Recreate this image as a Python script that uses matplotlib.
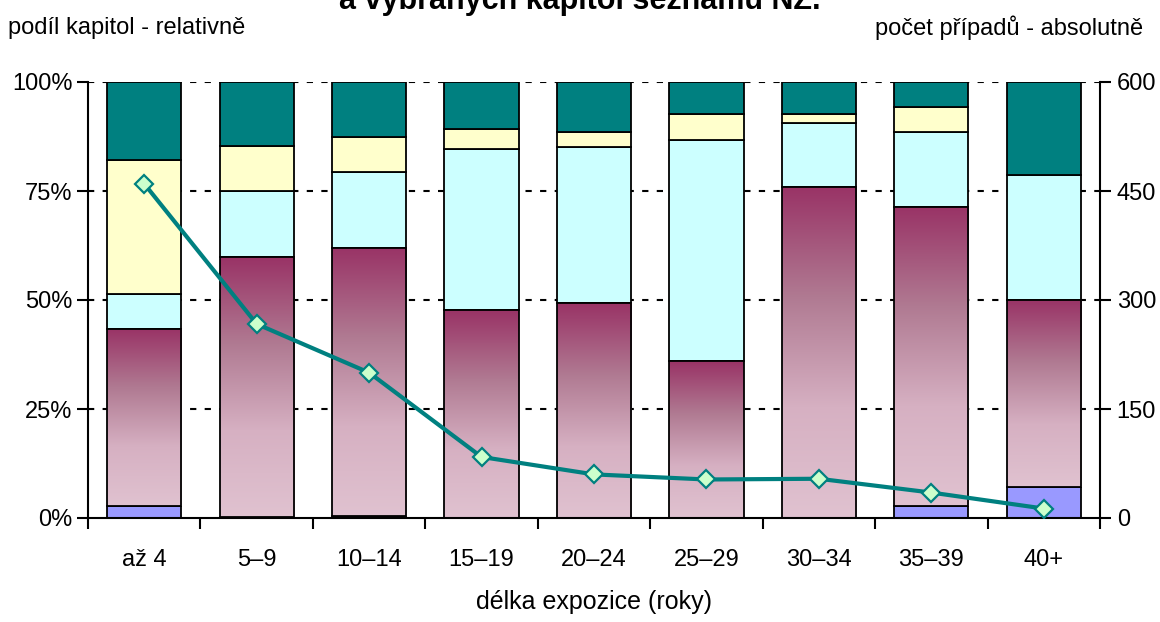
import matplotlib.pyplot as plt
import numpy as np
from matplotlib.colors import LinearSegmentedColormap

plt.rcParams['font.family'] = ['Liberation Sans', 'DejaVu Sans']

kategorie = ["až 4", "5–9", "10–14", "15–19", "20–24", "25–29", "30–34", "35–39", "40+"]
# horni hranice jednotlivych casti sloupcu (kumulativne, v %)
modra = [2.8, 0.2, 0.5, 0.0, 0.0, 0.0, 0.0, 2.8, 7.0]
vinova = [43.4, 59.8, 62.0, 47.7, 49.2, 35.9, 76.0, 71.4, 50.0]
azurova = [51.4, 75.0, 79.4, 84.6, 85.2, 86.8, 90.7, 88.6, 78.6]
zluta = [82.0, 85.4, 87.5, 89.3, 88.5, 92.6, 92.6, 94.3, 78.6]
# pocet pripadu
pocet = [460, 267, 200, 84, 60, 53, 54, 35, 13]

fig = plt.figure(figsize=(11.6, 6.22), dpi=100)
ax = fig.add_axes([88/1160, 104/622, 1012/1160, 436/622])

x = np.arange(len(kategorie))
w = 0.66
ec = "black"
lw = 1.3

grad = LinearSegmentedColormap.from_list("vin", ["#e0c2d0", "#d6b0c2", "#b07a92", "#993366"])
g = np.linspace(0, 1, 256).reshape(-1, 1)

for i in range(len(x)):
    b0 = 0
    if modra[i] > 0:
        ax.bar(x[i], modra[i], w, bottom=0, color="#9999ff", edgecolor=ec, linewidth=lw, zorder=2)
        b0 = modra[i]
    r = ax.bar(x[i], vinova[i] - b0, w, bottom=b0, color="none", edgecolor=ec, linewidth=lw, zorder=3)[0]
    im = ax.imshow(g, cmap=grad, aspect="auto", origin="lower",
                   extent=[x[i] - w/2, x[i] + w/2, b0, vinova[i]], zorder=2.5)
    im.set_clip_path(r)
    ax.bar(x[i], azurova[i] - vinova[i], w, bottom=vinova[i], color="#ccffff", edgecolor=ec, linewidth=lw, zorder=2)
    if zluta[i] > azurova[i]:
        ax.bar(x[i], zluta[i] - azurova[i], w, bottom=azurova[i], color="#ffffcc", edgecolor=ec, linewidth=lw, zorder=2)
    ax.bar(x[i], 100 - zluta[i], w, bottom=zluta[i], color="#008080", edgecolor=ec, linewidth=lw, zorder=2)

ax.set_xlim(-0.5, len(x) - 0.5)
ax.set_ylim(0, 100)
ax.set_yticks([0, 25, 50, 75, 100])
ax.set_yticklabels(["0%", "25%", "50%", "75%", "100%"])
ax.set_xticks(x)
ax.set_xticklabels(kategorie)
ax.set_xticks(np.arange(len(x) + 1) - 0.5, minor=True)
ax.tick_params(axis="x", which="major", length=0, labelsize=17, pad=22)
ax.tick_params(axis="x", which="minor", length=8, width=1.5, direction="out")
ax.tick_params(axis="y", length=8, width=1.5, direction="out", labelsize=17, pad=3)
for yv in [25, 50, 75, 100]:
    ax.axhline(yv, color="black", linestyle=(0, (3, 4)), linewidth=1.5, zorder=0)
for s in ["top", "right"]:
    ax.spines[s].set_visible(False)
ax.spines["left"].set_linewidth(1.5)
ax.spines["bottom"].set_linewidth(1.5)
ax.set_xlabel("délka expozice (roky)", fontsize=18, labelpad=14)

ax2 = ax.twinx()
ax2.plot(x, pocet, color="#008080", linewidth=3, marker="D", markersize=9.5,
         markerfacecolor="#ccffcc", markeredgecolor="#008080", markeredgewidth=1.6, zorder=5)
ax2.set_ylim(0, 600)
ax2.set_yticks([0, 150, 300, 450, 600])
ax2.tick_params(axis="y", length=8, width=1.5, direction="out", labelsize=17, pad=4)
for s in ["top", "left", "bottom"]:
    ax2.spines[s].set_visible(False)
ax2.spines["right"].set_linewidth(1.5)

fig.text(8/1160, 1 - 28/622, "podíl kapitol - relativně", fontsize=17, ha="left", va="center")
fig.text(1143/1160, 1 - 28/622, "počet případů - absolutně", fontsize=17, ha="right", va="center")
fig.text(0.5, 1 - 9/622, "a vybraných kapitol seznamu NZ.", fontsize=22, fontweight="bold",
         ha="center", va="baseline")

fig.savefig("out.png", dpi=100)
